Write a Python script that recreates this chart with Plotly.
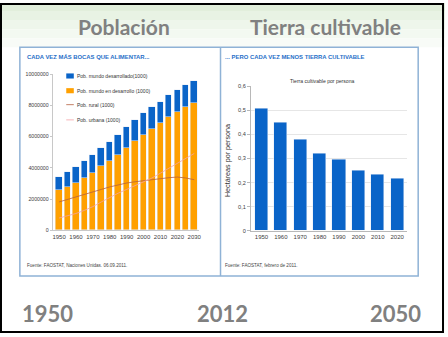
import plotly.graph_objects as go

# ---------------- data ----------------
years_pop = [1950, 1955, 1960, 1965, 1970, 1975, 1980, 1985, 1990,
             1995, 2000, 2005, 2010, 2015, 2020, 2025, 2030]
pop_en_desarrollo = [2550000, 2800000, 3050000, 3350000, 3700000, 4100000, 4460000, 4850000, 5290000,
                     5710000, 6110000, 6510000, 6880000, 7220000, 7570000, 7890000, 8160000]
pop_desarrollado = [860000, 940000, 1010000, 1090000, 1130000, 1150000, 1210000, 1260000, 1320000,
                    1320000, 1380000, 1360000, 1340000, 1420000, 1400000, 1420000, 1400000]
pop_rural = [1820000, 1970000, 2130000, 2290000, 2450000, 2620000, 2780000, 2910000, 3030000,
             3110000, 3180000, 3240000, 3300000, 3370000, 3410000, 3350000, 3240000]
pop_urbana = [790000, 920000, 1080000, 1280000, 1520000, 1820000, 2120000, 2380000, 2620000,
              2850000, 3080000, 3350000, 3660000, 3970000, 4290000, 4600000, 4920000]
pop_xticks = [1950, 1960, 1970, 1980, 1990, 2000, 2010, 2020, 2030]
pop_yticks = [0, 2000000, 4000000, 6000000, 8000000, 10000000]

years_land = [1950, 1960, 1970, 1980, 1990, 2000, 2010, 2020]
ha_por_persona = [0.51, 0.45, 0.38, 0.32, 0.295, 0.25, 0.235, 0.215]
land_yticks = [0, 0.1, 0.2, 0.3, 0.4, 0.5, 0.6]
land_yticklabels = ["0", "0,1", "0,2", "0,3", "0,4", "0,5", "0,6"]

legend_labels = ["Pob. mundo desarrollado(1000)", "Pob. mundo en desarrollo (1000)",
                 "Pob. rural (1000)", "Pob. urbana (1000)"]

# ---------------- styles ----------------
W, H = 448, 337
FONT = "Liberation Sans, Arial, sans-serif"
BIGFONT = "Lato, Roboto, sans-serif"
BLUE = "#0A64C8"
ORANGE = "#FFA000"
RURAL = "#B5603F"
URBAN = "#F2A2A6"
TITLE_BLUE = "#1F6FC8"
BIG_GRAY = "#808080"


def px(x):
    return x / W


def py(y):
    return 1 - y / H


fig = go.Figure()

# left chart: population
fig.add_trace(go.Bar(x=years_pop, y=pop_en_desarrollo, marker_color=ORANGE, width=3.8,
                     name=legend_labels[1], xaxis="x", yaxis="y", showlegend=False))
fig.add_trace(go.Bar(x=years_pop, y=pop_desarrollado, marker_color=BLUE, width=3.8,
                     name=legend_labels[0], xaxis="x", yaxis="y", showlegend=False))
fig.add_trace(go.Scatter(x=years_pop, y=pop_rural, mode="lines", line=dict(color=RURAL, width=0.8),
                         name=legend_labels[2], xaxis="x", yaxis="y", showlegend=False))
fig.add_trace(go.Scatter(x=years_pop, y=pop_urbana, mode="lines", line=dict(color=URBAN, width=0.8),
                         name=legend_labels[3], xaxis="x", yaxis="y", showlegend=False))

# right chart: arable land
fig.add_trace(go.Bar(x=years_land, y=ha_por_persona, marker_color=BLUE, width=6.8,
                     xaxis="x2", yaxis="y2", showlegend=False))

ytickfont = dict(family=FONT, size=5.2, color="#404040")
ytickfont2 = dict(family=FONT, size=5.6, color="#404040")
xtickfont = dict(family=FONT, size=6, color="#404040")

shapes = []
# background gradient at top
for i, c in enumerate(["#e2efdc", "#e8f3e4", "#eef6eb", "#f3f9f1", "#f8fbf7"]):
    shapes.append(dict(type="rect", xref="paper", yref="paper", x0=0, x1=1,
                       y0=py(9 * (i + 1)), y1=py(9 * i), fillcolor=c, line_width=0, layer="below"))
# panel
shapes.append(dict(type="rect", xref="paper", yref="paper", x0=px(20), x1=px(421), y0=py(278), y1=py(45),
                   fillcolor="white", line=dict(color="#8FB2D6", width=1.5), layer="below"))
shapes.append(dict(type="line", xref="paper", yref="paper", x0=px(222), x1=px(222), y0=py(278), y1=py(45),
                   line=dict(color="#8FB2D6", width=1.5)))
# outer black frame
shapes.append(dict(type="rect", xref="paper", yref="paper", x0=px(1), x1=px(446), y0=py(335), y1=py(1),
                   line=dict(color="black", width=2)))

annotations = []


def txt(x, y, s, size, color, xanchor="left", bold=False, angle=0, family=FONT):
    annotations.append(dict(x=px(x), y=py(y), xref="paper", yref="paper", text=("<b>%s</b>" % s) if bold else s,
                            showarrow=False, xanchor=xanchor, yanchor="middle", textangle=angle,
                            font=dict(family=family, size=size, color=color)))


# manual legend in left chart
legend_y = [74.3, 89.3, 103.5, 119]
for i, lab in enumerate(legend_labels):
    yy = legend_y[i]
    if i < 2:
        shapes.append(dict(type="rect", xref="paper", yref="paper", x0=px(66.7), x1=px(74.3),
                           y0=py(yy + 2.6), y1=py(yy - 2.6), fillcolor=[BLUE, ORANGE][i], line_width=0))
    else:
        shapes.append(dict(type="line", xref="paper", yref="paper", x0=px(66.7), x1=px(74.3),
                           y0=py(yy), y1=py(yy), line=dict(color=[RURAL, URBAN][i - 2], width=0.8)))
    txt(75.5, yy, lab, 5, "#333333")

# texts
txt(125, 24, "Población", 21, BIG_GRAY, "center", bold=True, family=BIGFONT)
txt(328, 24, "Tierra cultivable", 21, BIG_GRAY, "center", bold=True, family=BIGFONT)
txt(48, 316, "1950", 22, BIG_GRAY, "center", bold=True, family=BIGFONT)
txt(224, 316, "2012", 22, BIG_GRAY, "center", bold=True, family=BIGFONT)
txt(398, 316, "2050", 22, BIG_GRAY, "center", bold=True, family=BIGFONT)
txt(25, 55, "CADA VEZ MÁS BOCAS QUE ALIMENTAR...", 5.9, TITLE_BLUE, bold=True)
txt(225, 55, "... PERO CADA VEZ MENOS TIERRA CULTIVABLE", 5.9, TITLE_BLUE, bold=True)
txt(325, 79, "Tierra cultivable por persona", 5.1, "#333333", "center")
txt(228.5, 160, "Hectáreas por persona", 7.2, "#333333", "center", angle=-90, family="Liberation Sans")
txt(25, 267, "Fuente: FAOSTAT, Naciones Unidas. 06.09.2011.", 4.6, "#444444")
txt(225, 267, "Fuente: FAOSTAT, febrero de 2011.", 4.6, "#444444")

fig.update_layout(
    width=W, height=H, margin=dict(l=0, r=0, t=0, b=0),
    paper_bgcolor="white", plot_bgcolor="rgba(0,0,0,0)",
    barmode="stack", bargap=0,
    shapes=shapes, annotations=annotations,
    xaxis=dict(domain=[px(53), px(200)], range=[1946.2, 2032.6], tickvals=pop_xticks, tickangle=0,
               tickfont=xtickfont, showgrid=False, zeroline=False, showline=True, linecolor="#C8C8C8",
               linewidth=1, ticks="", anchor="y"),
    yaxis=dict(domain=[py(231.5), py(72.3)], range=[0, 10000000], tickvals=pop_yticks,
               ticktext=[str(v) for v in pop_yticks], tickfont=ytickfont, showgrid=False, zeroline=False,
               showline=True, linecolor="#C8C8C8", linewidth=1, ticks="outside", ticklen=2,
               tickcolor="#C8C8C8", anchor="x"),
    xaxis2=dict(domain=[px(252.7), px(410)], range=[1944.6, 2025.2], tickvals=years_land, tickangle=0,
                tickfont=xtickfont, showgrid=False, zeroline=False, showline=True, linecolor="#B8B8B8",
                linewidth=1, ticks="", anchor="y2"),
    yaxis2=dict(domain=[py(231.7), py(85)], range=[0, 0.6], tickvals=land_yticks, ticktext=land_yticklabels,
                tickfont=ytickfont2, showgrid=True, gridcolor="#E6E6E6", gridwidth=1, zeroline=False,
                showline=True, linecolor="#B8B8B8", linewidth=1, ticks="outside", ticklen=3,
                tickcolor="#B8B8B8", anchor="x2"),
)

fig.write_html("out.html")
